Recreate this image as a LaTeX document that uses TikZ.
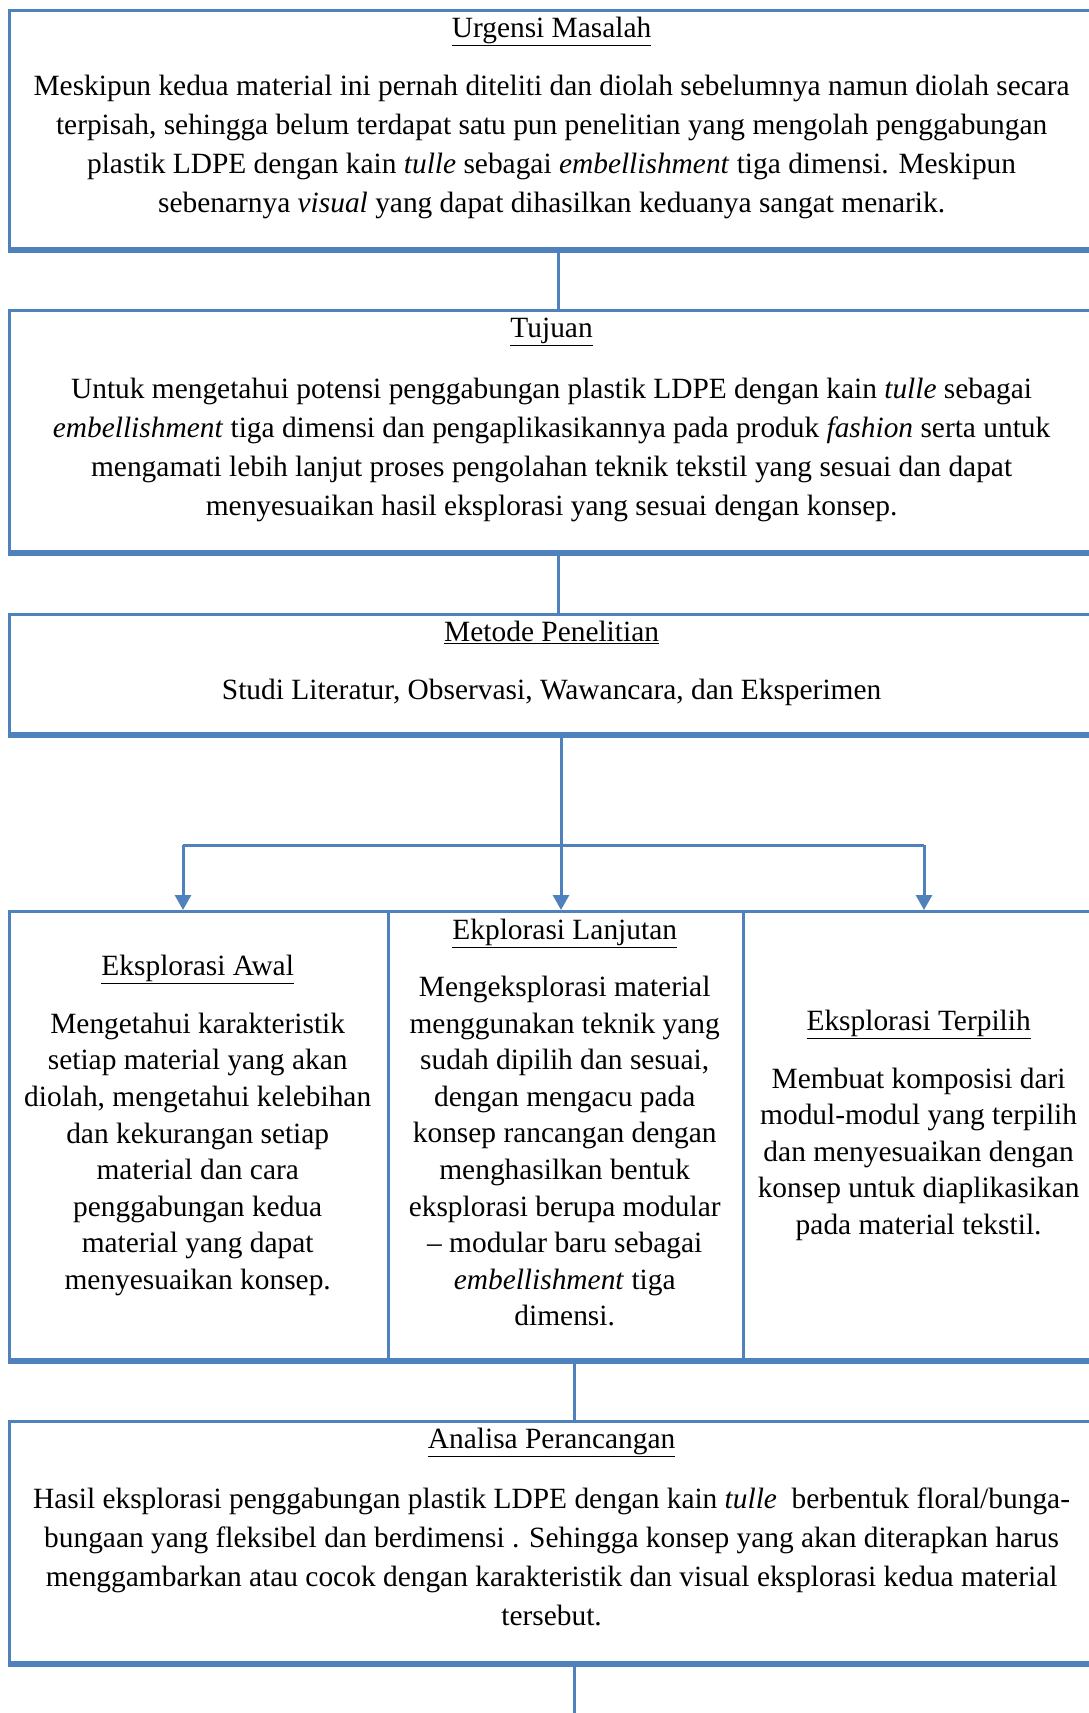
\documentclass[tikz,border=0pt]{standalone}
\usepackage{fontspec}
\setmainfont{Liberation Serif}
\usetikzlibrary{arrows.meta}
\definecolor{boxblue}{HTML}{4F81BD}
\begin{document}
\begin{tikzpicture}[x=1pt,y=-1pt,
  frame/.style={draw=boxblue,line width=2.7pt,inner sep=0pt,anchor=north west},
  shadeline/.style={draw=boxblue,line width=5.5pt},
  link/.style={draw=boxblue,line width=3pt},
  arrowlink/.style={link,-{Triangle[width=16pt,length=15pt]}},
  ttl/.style={font=\fontsize{29.4}{39}\selectfont,inner sep=0pt},
  body/.style={font=\fontsize{29.4}{39}\selectfont,align=center,inner sep=0pt},
  colbody/.style={font=\fontsize{29.4}{36.6}\selectfont,align=center,inner sep=0pt}]
\useasboundingbox (0,0) rectangle (1089,1713);
\clip (0,0) rectangle (1089,1713);

% boxes
\node[frame,minimum width=1098pt,minimum height=238pt] (b1) at (8,9) {};
\node[frame,minimum width=1098pt,minimum height=241pt] (b2) at (8,309) {};
\node[frame,minimum width=1098pt,minimum height=119pt] (b3) at (8,613) {};
\node[frame,minimum width=379pt,minimum height=448pt] (c1) at (8,910) {};
\node[frame,minimum width=355pt,minimum height=448pt] (c2) at (387,910) {};
\node[frame,minimum width=364pt,minimum height=448pt] (c3) at (742,910) {};
\node[frame,minimum width=1098pt,minimum height=241pt] (b5) at (8,1420) {};

\foreach \b in {b1,b2,b3,c1,c2,c3,b5}
  \draw[shadeline] ([yshift=-1pt]\b.south west) -- ([yshift=-1pt]\b.south east);

% connectors
\coordinate (split) at (561,845);
\coordinate (sl) at (183,845);
\coordinate (sr) at (924,845);
\coordinate (jn) at (574,1390);
\coordinate (endpt) at (574,1713);

\draw[link] (b1.south) -- (b2.north);
\draw[link] (b2.south) -- (b3.north);
\draw[link] (b3.south -| split) -- (split);
\draw[link] (sl) -- (sr);
\draw[arrowlink] (sl) -- (sl |- c1.north);
\draw[arrowlink] (split) -- (split |- c2.north);
\draw[arrowlink] (sr) -- (sr |- c3.north);
\draw[link] (c2.south -| jn) -- (b5.north -| jn);
\draw[link] (b5.south -| jn) -- (endpt);

% texts
\node[ttl] (t1) at (551.6,31) {\underline{Urgensi Masalah}};
\node[body] (x1) at (551.6,146.5) {Meskipun kedua material ini pernah diteliti dan diolah sebelumnya namun diolah secara\\
terpisah, sehingga belum terdapat satu pun penelitian yang mengolah penggabungan\\
plastik LDPE dengan kain \textit{tulle} sebagai \textit{embellishment} tiga dimensi. Meskipun\\
sebenarnya \textit{visual} yang dapat dihasilkan keduanya sangat menarik.};

\node[ttl] (t2) at (551.6,331.7) {\underline{Tujuan}};
\node[body] (x2) at (551.6,449.8) {Untuk mengetahui potensi penggabungan plastik LDPE dengan kain \textit{tulle} sebagai\\
\textit{embellishment} tiga dimensi dan pengaplikasikannya pada produk \textit{fashion} serta untuk\\
mengamati lebih lanjut proses pengolahan teknik tekstil yang sesuai dan dapat\\
menyesuaikan hasil eksplorasi yang sesuai dengan konsep.};

\node[ttl] (t3) at (551.6,632.2) {\underline{Metode Penelitian}};
\node[body] (x3) at (551.6,692.2) {Studi Literatur, Observasi, Wawancara, dan Eksperimen};

\node[ttl] (t4) at (197.7,969.6) {\underline{Eksplorasi Awal}};
\node[colbody] (x4) at (197.7,1154.3) {Mengetahui karakteristik\\
setiap material yang akan\\
diolah, mengetahui kelebihan\\
dan kekurangan setiap\\
material dan cara\\
penggabungan kedua\\
material yang dapat\\
menyesuaikan konsep.};

\node[ttl] (t5) at (564.7,933.6) {\underline{Ekplorasi Lanjutan}};
\node[colbody] (x5) at (564.7,1151.2) {Mengeksplorasi material\\
menggunakan teknik yang\\
sudah dipilih dan sesuai,\\
dengan mengacu pada\\
konsep rancangan dengan\\
menghasilkan bentuk\\
eksplorasi berupa modular\\
-- modular baru sebagai\\
\textit{embellishment} tiga\\
dimensi.};

\node[ttl] (t6) at (918.6,1024.2) {\underline{Eksplorasi Terpilih}};
\node[colbody] (x6) at (918.6,1154.3) {Membuat komposisi dari\\
modul-modul yang terpilih\\
dan menyesuaikan dengan\\
konsep untuk diaplikasikan\\
pada material tekstil.};

\node[ttl] (t7) at (551.6,1442.6) {\underline{Analisa Perancangan}};
\node[body] (x7) at (551.6,1557.2) {Hasil eksplorasi penggabungan plastik LDPE dengan kain \textit{tulle}\ \ berbentuk floral/bunga-\\
bungaan yang fleksibel dan berdimensi . Sehingga konsep yang akan diterapkan harus\\
menggambarkan atau cocok dengan karakteristik dan visual eksplorasi kedua material\\
tersebut.};
\end{tikzpicture}
\end{document}
